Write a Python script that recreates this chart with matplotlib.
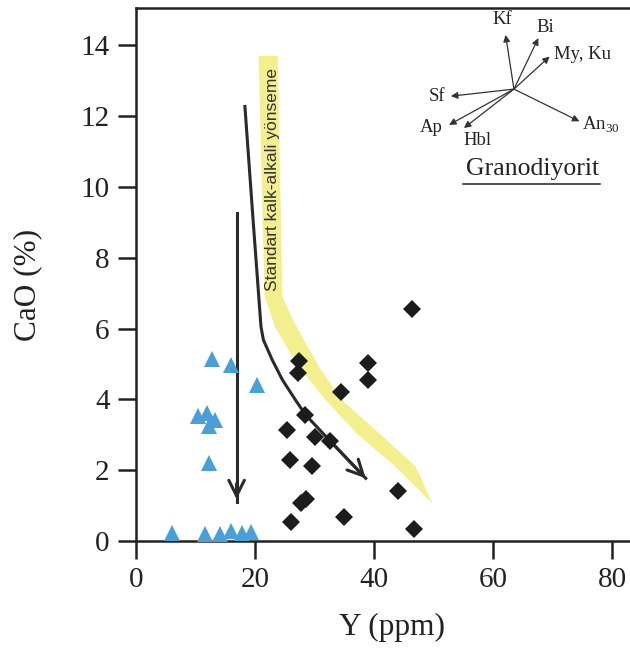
import matplotlib.pyplot as plt
import numpy as np

plt.rcParams['font.family'] = ['Liberation Serif', 'DejaVu Serif']
plt.rcParams['mathtext.fontset'] = 'custom'
plt.rcParams['mathtext.rm'] = 'Liberation Serif'

# Granodiyorit örnekleri (mavi üçgenler)
tri_y = [12.7, 15.9, 20.4, 10.5, 12.0, 13.3, 12.2, 12.3, 6.0, 11.6, 14.1, 15.9, 17.8, 19.4]
tri_cao = [5.13, 4.97, 4.41, 3.53, 3.61, 3.42, 3.25, 2.21, 0.22, 0.19, 0.19, 0.28, 0.24, 0.26]

# Diğer örnekler (siyah baklava)
dia_y = [46.4, 27.4, 27.3, 39.0, 39.0, 34.4, 28.4, 25.4, 30.0, 32.6, 25.8, 29.5,
         44.1, 28.5, 27.8, 35.0, 26.0, 46.7]
dia_cao = [6.54, 5.07, 4.75, 5.02, 4.55, 4.22, 3.56, 3.14, 2.93, 2.81, 2.29, 2.12,
           1.42, 1.18, 1.08, 0.67, 0.54, 0.33]

# Yönseme okları
vert_x = [16.9, 16.9]
vert_y = [9.27, 1.1]
trend_x = [18.3, 19.7, 21.0, 21.4, 22.9, 24.6, 26.8, 28.5, 32.7, 38.6]
trend_y = [12.27, 9.0, 6.05, 5.68, 5.11, 4.55, 3.98, 3.56, 2.81, 1.77]

# Standart kalk-alkali yönseme bandı
band_x = [20.6, 21.6, 23.5, 27.4, 31.9, 37.0, 43.6, 49.8,
          47.0, 40.8, 34.6, 30.8, 26.5, 24.6, 23.8]
band_y = [13.7, 6.9, 6.0, 4.9, 3.98, 3.05, 2.1, 1.06,
          2.1, 3.05, 3.98, 4.9, 6.2, 6.9, 13.7]

# Mineral vektörleri (uç noktaları)
vec_center = (63.5, 12.76)
vec_names = ['Kf', 'Bi', 'My, Ku', 'Sf', 'Ap', 'Hbl', r'An$_{\mathrm{30}}$']
vec_tip_x = [62.1, 67.6, 69.5, 52.9, 52.6, 55.1, 74.5]
vec_tip_y = [14.29, 14.20, 13.68, 12.56, 11.75, 11.66, 11.85]
lab_x = [61.6, 68.8, 70.3, 50.5, 49.6, 57.3, 75.0]
lab_y = [14.72, 14.49, 13.73, 12.54, 11.67, 11.30, 11.75]
lab_ha = ['center', 'center', 'left', 'center', 'center', 'center', 'left']

fig = plt.figure(figsize=(6.3, 6.51), dpi=100)
ax = fig.add_axes([136 / 630, 110 / 651, 1 - 136 / 630, 533 / 651])

ax.fill(band_x, band_y, color='#f3ef8e', lw=0, zorder=1)
ax.text(22.9, 10.2, 'Standart kalk-alkali yönseme', rotation=90, ha='center', va='center',
        family=['Liberation Sans', 'DejaVu Sans'], fontsize=12.5, color='#333333', zorder=2)

ax.plot(vert_x, vert_y, color='#2a2a2a', lw=2.2, zorder=3)
ax.annotate('', xy=(vert_x[1], vert_y[1]), xytext=(vert_x[1], vert_y[1] + 0.6),
            arrowprops=dict(arrowstyle='->', color='#2a2a2a', lw=2.2, mutation_scale=28), zorder=3)
ax.plot(trend_x, trend_y, color='#2a2a2a', lw=2.2, zorder=3)
ax.annotate('', xy=(trend_x[-1], trend_y[-1]), xytext=(trend_x[-2], trend_y[-2]),
            arrowprops=dict(arrowstyle='->', color='#2a2a2a', lw=2.2, mutation_scale=28,
                            shrinkA=0, shrinkB=0), zorder=3)

ax.plot(tri_y, tri_cao, '^', color='#4a9fd8', ms=12, mew=0, zorder=4, clip_on=False)
ax.plot(dia_y, dia_cao, 'D', color='#1c1c1c', ms=9, mew=0, zorder=4, clip_on=False)

for tx, ty in zip(vec_tip_x, vec_tip_y):
    ax.annotate('', xy=(tx, ty), xytext=vec_center,
                arrowprops=dict(arrowstyle='-|>', color='#333333', lw=0.9, mutation_scale=10,
                                shrinkA=0, shrinkB=0))
for name, lx, ly, ha in zip(vec_names, lab_x, lab_y, lab_ha):
    ax.text(lx, ly, name, ha=ha, va='center', fontsize=13.5, color='#222222')
ax.text(66.6, 10.5, 'Granodiyorit', ha='center', va='center', fontsize=18.5, color='#222222')
ax.plot([55.0, 78.0], [10.08, 10.08], color='#222222', lw=1.1)

ax.set_xlim(0, 83)
ax.set_ylim(0, 15.05)
ax.set_xticks([0, 20, 40, 60, 80])
ax.set_yticks([0, 2, 4, 6, 8, 10, 12, 14])
ax.tick_params(direction='out', length=13, width=1.8, labelsize=21, pad=6, colors='#222222')
for s in ['left', 'bottom', 'top']:
    ax.spines[s].set_linewidth(1.8)
    ax.spines[s].set_color('#222222')
ax.spines['right'].set_visible(False)

ax.set_xlabel('Y (ppm)', fontsize=22.5, color='#222222')
ax.set_ylabel('CaO (%)', fontsize=22.5, color='#222222')
ax.xaxis.set_label_coords(0.518, -0.163)
ax.yaxis.set_label_coords(-0.219, 0.48)
ax.xaxis.label.set_va('center')
ax.yaxis.label.set_va('center')

plt.savefig('out.png', dpi=100)
